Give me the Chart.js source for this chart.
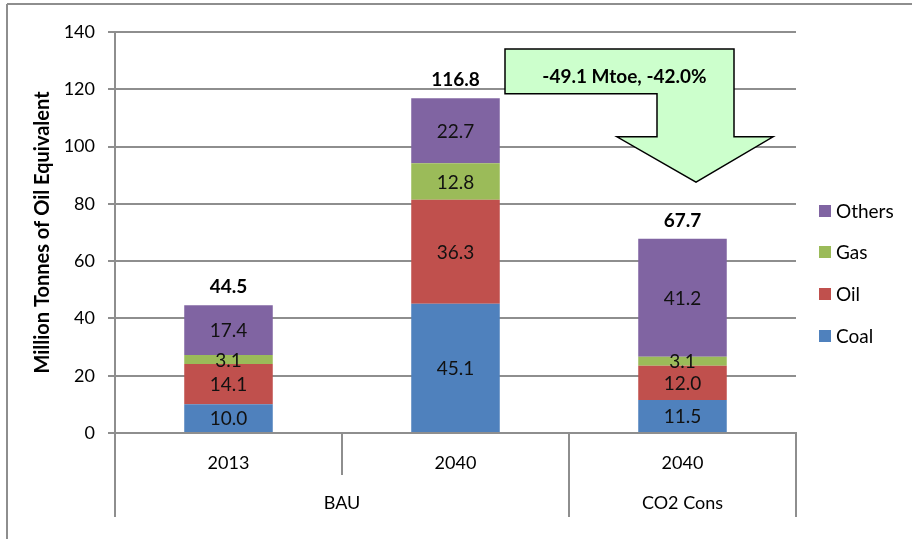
<!DOCTYPE html>
<html><head><meta charset="utf-8">
<script src="https://cdn.jsdelivr.net/npm/chart.js@4/dist/chart.umd.min.js"></script>
<style>html,body{margin:0;padding:0;background:#fff}#wrap{width:912px;height:539px}</style>
</head><body><div id="wrap"><canvas id="c" width="912" height="539"></canvas></div>
<script>
// ---- data ----
const categories = ['2013', '2040', '2040'];
const groupLabels = ['BAU', 'CO2 Cons'];
const groupSpans = [[0, 1], [2, 2]];
const seriesNames = ['Coal', 'Oil', 'Gas', 'Others'];
const coal = [10.0, 45.1, 11.5];
const oil = [14.1, 36.3, 12.0];
const gas = [3.1, 12.8, 3.1];
const others = [17.4, 22.7, 41.2];
const totals = [44.5, 116.8, 67.7];
const yTicks = [0, 20, 40, 60, 80, 100, 120, 140];
const yTitle = 'Million Tonnes of Oil Equivalent';
const annotationText = '-49.1 Mtoe, -42.0%';

const colors = ['#4F81BD', '#C0504D', '#9BBB59', '#8064A2'];
const FONT = 'Lato, "Open Sans", sans-serif';
const GRID = '#8e8e8e';

const seriesValues = [coal, oil, gas, others];

const extras = {
  id: 'extras',
  afterDraw(chart) {
    const ctx = chart.ctx;
    const xs = chart.scales.x, ys = chart.scales.y;
    const area = chart.chartArea;
    ctx.save();
    // outer frame (top + left)
    ctx.strokeStyle = GRID; ctx.lineWidth = 2;
    ctx.beginPath(); ctx.moveTo(7, 4); ctx.lineTo(912, 4); ctx.moveTo(7, 4); ctx.lineTo(7, 539); ctx.stroke();

    // separators of the two-level category axis
    const catW = (area.right - area.left) / categories.length;
    const bounds = [];
    for (let i = 0; i <= categories.length; i++) bounds.push(area.left + i * catW);
    const groupEnds = new Set([0]);
    groupSpans.forEach(s => groupEnds.add(s[1] + 1));
    ctx.strokeStyle = GRID; ctx.lineWidth = 2;
    bounds.forEach((bx, i) => {
      const x = Math.round(bx);
      const yEnd = groupEnds.has(i) ? 517 : 475;
      ctx.beginPath(); ctx.moveTo(x, area.bottom); ctx.lineTo(x, yEnd); ctx.stroke();
    });
    // group labels
    ctx.fillStyle = '#000'; ctx.font = '18px ' + FONT; ctx.textAlign = 'center'; ctx.textBaseline = 'middle';
    groupSpans.forEach((s, g) => {
      const cx = (bounds[s[0]] + bounds[s[1] + 1]) / 2;
      ctx.fillText(groupLabels[g], cx, 503);
    });

    // segment value labels
    ctx.font = '19px ' + FONT; ctx.fillStyle = '#111';
    chart.data.datasets.forEach((ds, di) => {
      const meta = chart.getDatasetMeta(di);
      meta.data.forEach((bar, i) => {
        const cy = (bar.y + bar.base) / 2;
        ctx.fillText(ds.data[i].toFixed(1), bar.x, cy + 1);
      });
    });
    // totals
    ctx.font = 'bold 19px ' + FONT; ctx.fillStyle = '#000';
    const topMeta = chart.getDatasetMeta(chart.data.datasets.length - 1);
    topMeta.data.forEach((bar, i) => {
      ctx.fillText(totals[i].toFixed(1), bar.x, bar.y - 18);
    });

    // arrow annotation
    const c2 = xs.getPixelForValue(2);
    const pts = [
      [c2 - 177.5, ys.getPixelForValue(134.1)],
      [c2 + 51.5, ys.getPixelForValue(134.1)],
      [c2 + 51.5, ys.getPixelForValue(103.4)],
      [c2 + 90.5, ys.getPixelForValue(103.4)],
      [c2 + 13.5, ys.getPixelForValue(87.6)],
      [c2 - 65.5, ys.getPixelForValue(103.4)],
      [c2 - 25.5, ys.getPixelForValue(103.4)],
      [c2 - 25.5, ys.getPixelForValue(118.4)],
      [c2 - 177.5, ys.getPixelForValue(118.4)]
    ];
    ctx.beginPath();
    pts.forEach((p, k) => k ? ctx.lineTo(p[0], p[1]) : ctx.moveTo(p[0], p[1]));
    ctx.closePath();
    ctx.fillStyle = '#CCFFCC'; ctx.fill();
    ctx.strokeStyle = '#000'; ctx.lineWidth = 1.5; ctx.lineJoin = 'miter'; ctx.stroke();
    ctx.fillStyle = '#000'; ctx.font = 'bold 19px ' + FONT;
    ctx.fillText(annotationText, c2 - 58, ys.getPixelForValue(124.3));

    // legend (reversed order)
    const legendY = [211, 252, 294, 336];
    ctx.font = '19px ' + FONT; ctx.textAlign = 'left';
    for (let k = 0; k < seriesNames.length; k++) {
      const si = seriesNames.length - 1 - k;
      const y = legendY[k];
      ctx.fillStyle = colors[si];
      ctx.fillRect(819, y - 6, 12, 12);
      ctx.fillStyle = '#000';
      ctx.fillText(seriesNames[si], 836, y + 1);
    }
    ctx.restore();
  }
};

new Chart(document.getElementById('c'), {
  type: 'bar',
  data: {
    labels: categories,
    datasets: seriesNames.map((n, i) => ({
      label: n,
      data: seriesValues[i],
      backgroundColor: colors[i],
      borderWidth: 0,
      barPercentage: 0.39,
      categoryPercentage: 1.0
    }))
  },
  options: {
    responsive: false,
    animation: false,
    devicePixelRatio: 1,
    layout: { padding: { left: 25, top: 32, right: 116, bottom: 0 } },
    plugins: { legend: { display: false }, tooltip: { enabled: false } },
    scales: {
      x: {
        stacked: true,
        grid: { display: false, drawTicks: false },
        border: { display: true, color: GRID, width: 2 },
        ticks: { color: '#000', font: { family: FONT, size: 18 }, padding: 19, maxRotation: 0 },
        afterFit(s) { s.height = 106; }
      },
      y: {
        stacked: true,
        min: 0, max: 140,
        afterBuildTicks(s) { s.ticks = yTicks.map(v => ({ value: v })); },
        grid: { color: GRID, lineWidth: 2, tickLength: 7, drawTicks: true },
        border: { display: true, color: GRID, width: 2 },
        ticks: { color: '#000', font: { family: FONT, size: 18 }, padding: 13 },
        title: { display: true, text: yTitle, color: '#000', font: { family: FONT, size: 20, weight: 'bold' }, padding: { top: 6, bottom: 4 } },
        afterFit(s) { s.width = 90; }
      }
    }
  },
  plugins: [extras]
});
</script>
</body></html>
